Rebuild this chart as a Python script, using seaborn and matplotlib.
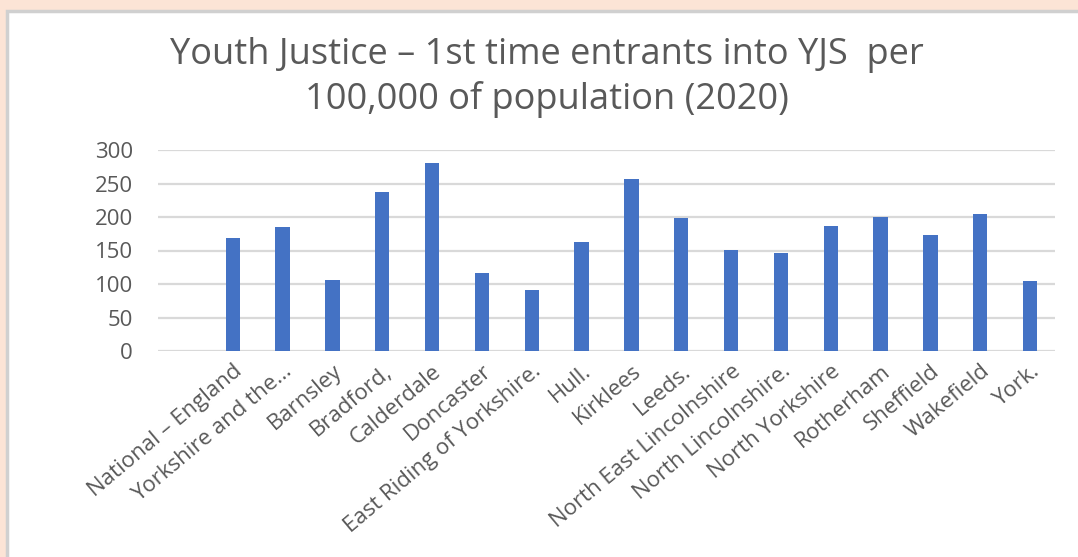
import matplotlib
matplotlib.use("Agg")
import matplotlib.pyplot as plt
from matplotlib.patches import Rectangle
import seaborn as sns
import pandas as pd

# Youth Justice first time entrants per 100,000 of population, 2020
areas = [
    "National – England", "Yorkshire and the…", "Barnsley", "Bradford,",
    "Calderdale", "Doncaster", "East Riding of Yorkshire.", "Hull.",
    "Kirklees", "Leeds.", "North East Lincolnshire", "North Lincolnshire.",
    "North Yorkshire", "Rotherham", "Sheffield", "Wakefield", "York.",
]
entrants = [168, 185, 106, 238, 280, 117, 91, 162, 257, 199, 151, 147,
            186, 200, 173, 204, 104]
y_ticks = [0, 50, 100, 150, 200, 250, 300]

# the category axis starts with one empty slot
axis_order = [""] + areas

sns.set_theme(style="white")
plt.rcParams["font.family"] = ["Open Sans", "DejaVu Sans"]

text_grey = "#595959"
bar_blue = "#4472C4"
grid_grey = "#D9D9D9"

fig = plt.figure(figsize=(10.78, 5.57), dpi=100)
fig.patch.set_facecolor("#FCE4D6")

# white chart panel with a thin grey frame
panel = Rectangle((7 / 1078, -0.05), 1.1, 1 - 11 / 557 + 0.05,
                  transform=fig.transFigure, facecolor="white",
                  edgecolor="#D0D0D0", linewidth=2.5, zorder=-5)
fig.patches.append(panel)

ax = fig.add_axes([158 / 1078, 1 - 351 / 557, (1055 - 158) / 1078, (351 - 150) / 557])
ax.set_facecolor("none")
ax.set_zorder(2)

df = pd.DataFrame({"area": areas, "entrants": entrants})
sns.barplot(data=df, x="area", y="entrants", order=axis_order,
            color=bar_blue, saturation=1, width=0.29, ax=ax, zorder=3,
            edgecolor="none")

ax.set_ylim(0, 300)
ax.set_yticks(y_ticks)
ax.set_yticklabels([str(v) for v in y_ticks])
for v in y_ticks:
    ax.axhline(v, color=grid_grey, linewidth=1.6, zorder=1)

for s in ax.spines.values():
    s.set_visible(False)

ax.set_xlabel("")
ax.set_ylabel("")
ax.tick_params(axis="both", length=0, colors=text_grey)
ax.tick_params(axis="y", pad=18, labelsize=16)
ax.tick_params(axis="x", pad=7, labelsize=16)
for lbl in ax.get_xticklabels():
    lbl.set_rotation(40)
    lbl.set_ha("right")
    lbl.set_va("top")
    lbl.set_rotation_mode("anchor")
    lbl.set_color(text_grey)

fig.text(547 / 1078, 1 - 55 / 557,
         "Youth Justice – 1st time entrants into YJS  per",
         ha="center", va="center", fontsize=26, color=text_grey)
fig.text(547 / 1078, 1 - 100 / 557,
         "100,000 of population (2020)",
         ha="center", va="center", fontsize=26, color=text_grey)

fig.savefig("out.png", dpi=100, facecolor=fig.get_facecolor())
